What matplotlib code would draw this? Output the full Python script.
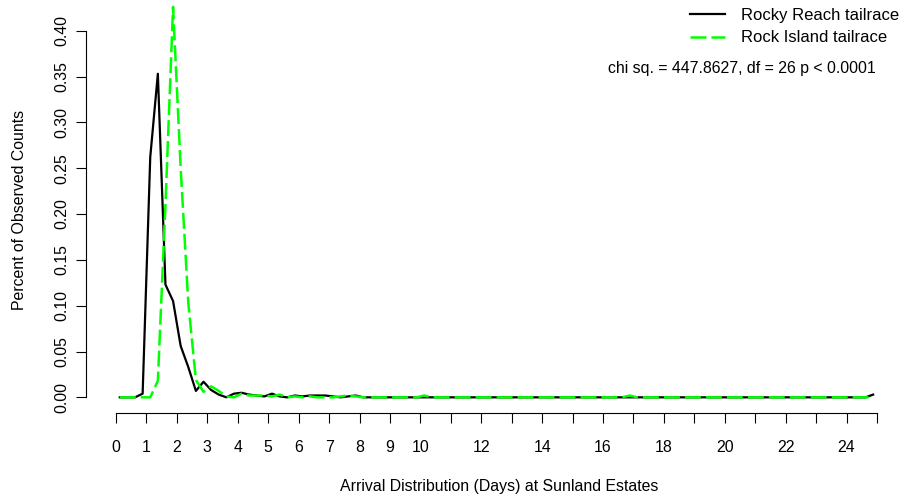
import matplotlib
matplotlib.use("Agg")
import matplotlib.pyplot as plt
import numpy as np

plt.rcParams['font.family'] = ['Liberation Sans', 'DejaVu Sans']
plt.rcParams['lines.scale_dashes'] = False

# quarter-day bins, plotted at bin midpoints
days = np.arange(100) * 0.25 + 0.125

rocky_reach = np.zeros(100)
rocky_reach[:33] = [0, 0, 0, 0.004, 0.262, 0.353, 0.123, 0.105, 0.056, 0.033,
                    0.007, 0.017, 0.008, 0.003, 0.0, 0.004, 0.005, 0.003, 0.002, 0.001,
                    0.004, 0.001, 0.0, 0.002, 0.001, 0.002, 0.002, 0.002, 0.001, 0.0,
                    0.001, 0.002, 0.0]
rocky_reach[99] = 0.003

rock_island = np.zeros(100)
rock_island[:33] = [0, 0, 0, 0, 0, 0.018, 0.21, 0.426, 0.25, 0.103,
                    0.019, 0.006, 0.012, 0.007, 0.001, 0.0, 0.004, 0.002, 0.002, 0.002,
                    0.001, 0.003, 0.0, 0.001, 0.0, 0.001, 0.0, 0.0, 0.0, 0.001,
                    0.002, 0.001, 0.0]
rock_island[40] = 0.002
rock_island[67] = 0.002

series_names = ["Rocky Reach tailrace", "Rock Island tailrace"]
x_ticks = list(range(0, 26))
x_labels = [str(t) if (t <= 10 or (t % 2 == 0 and t < 25)) else "" for t in x_ticks]
y_ticks = np.arange(0, 0.41, 0.05)
stat_text = "chi sq. = 447.8627, df = 26 p < 0.0001"

W, H = 904, 495
fig = plt.figure(figsize=(W / 100, H / 100), dpi=100)
ax = fig.add_axes([85.56 / W, (H - 413.1) / H, (907.4 - 85.56) / W, (413.1 + 12.4) / H])

ax.plot(days, rocky_reach, color="black", lw=1.6, label=series_names[0])
ax.plot(days, rock_island, color="#00FF00", lw=1.8, dashes=(11.5, 3.6), label=series_names[1])

ax.set_xlim(-1, 26)
ax.set_ylim(-0.0172, 0.447)

for s in ["top", "right"]:
    ax.spines[s].set_visible(False)
ax.spines["left"].set_bounds(0, 0.4)
ax.spines["bottom"].set_bounds(0, 25)
ax.spines["left"].set_linewidth(0.8)
ax.spines["bottom"].set_linewidth(0.8)

ax.set_xticks(x_ticks)
ax.set_xticklabels(x_labels, fontsize=11.4)
ax.set_yticks(y_ticks)
ax.set_yticklabels([f"{v:.2f}" for v in y_ticks], fontsize=11.4, rotation=90, va="center")
ax.tick_params(axis="x", length=7.5, width=0.8, pad=12)
ax.tick_params(axis="y", length=7, width=0.8, pad=5)

ax.legend(loc="upper left", bbox_to_anchor=(690 / W, 1 - 8 / H), bbox_transform=fig.transFigure,
          frameon=False, fontsize=12, handlelength=2.1, handletextpad=0.95,
          borderpad=0, borderaxespad=0, labelspacing=0.45)

fig.text(876 / W, 1 - 68 / H, stat_text, ha="right", va="center", fontsize=11.4)
fig.text(20 / W, 1 - 210 / H, "Percent of Observed Counts", rotation=90,
         ha="center", va="center", fontsize=11.4)
fig.text(499 / W, 1 - 487 / H, "Arrival Distribution (Days) at Sunland Estates",
         ha="center", va="center", fontsize=11.4)

fig.savefig("out.png", dpi=100)
